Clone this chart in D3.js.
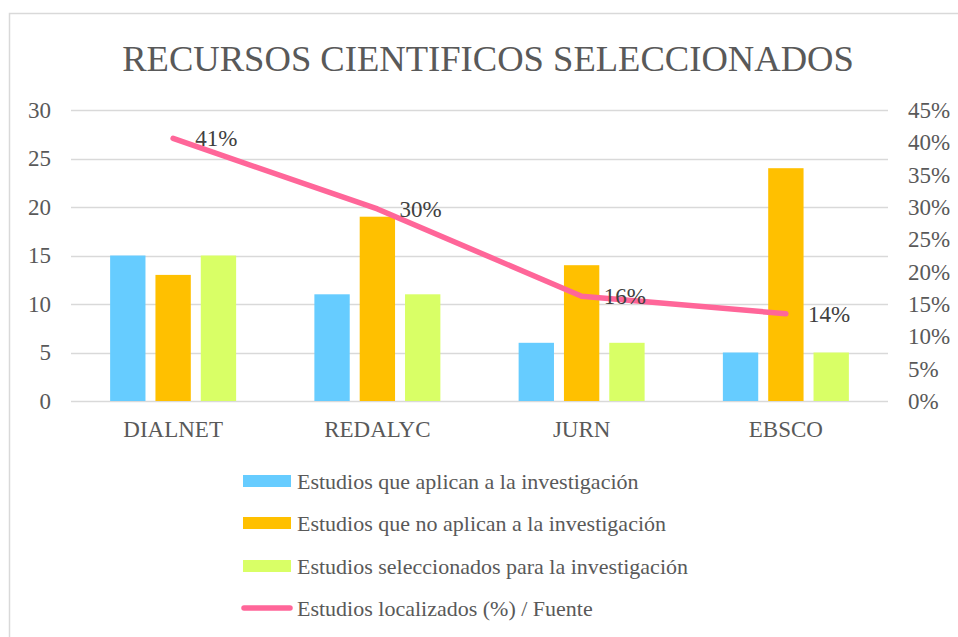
<!DOCTYPE html>
<html>
<head>
<meta charset="utf-8">
<script src="https://cdn.jsdelivr.net/npm/d3@7"></script>
<style>
  body { margin: 0; background: #fff; }
  svg text { font-family: 'Liberation Serif', 'Times New Roman', Times, 'DejaVu Serif', serif; }
</style>
</head>
<body>
<svg id="chart"></svg>
<script>
// datos del gráfico
const categories = ['DIALNET', 'REDALYC', 'JURN', 'EBSCO'];
const aplican = [15, 11, 6, 5];
const noAplican = [13, 19, 14, 24];
const seleccionados = [15, 11, 6, 5];
const localizados = [0.406, 0.297, 0.162, 0.135];
const localizadosLabels = ['41%', '30%', '16%', '14%'];
const leftTicks = [0, 5, 10, 15, 20, 25, 30];
const rightTicks = [0, 0.05, 0.10, 0.15, 0.20, 0.25, 0.30, 0.35, 0.40, 0.45];

const seriesNames = [
  'Estudios que aplican a la investigación',
  'Estudios que no aplican a la investigación',
  'Estudios seleccionados para la investigación',
  'Estudios localizados (%) / Fuente'
];
const colors = ['#66CCFF', '#FFC000', '#D9FF66', '#FF6699'];

const width = 958, height = 637;
const margin = { top: 110, right: 70, bottom: 236, left: 71 };
const serif = "'Liberation Serif', 'Times New Roman', Times, 'DejaVu Serif', serif";

const svg = d3.select('#chart')
  .attr('width', width)
  .attr('height', height);

// marco exterior
svg.append('rect')
  .attr('x', 9.5).attr('y', 13.5)
  .attr('width', 1000).attr('height', 700)
  .attr('fill', 'none')
  .attr('stroke', '#D9D9D9')
  .attr('stroke-width', 1.5);

// título
svg.append('text')
  .attr('x', 488).attr('y', 71)
  .attr('text-anchor', 'middle')
  .attr('fill', '#595959')
  .style('font-family', serif)
  .style('font-size', '36.6px')
  .text('RECURSOS CIENTIFICOS SELECCIONADOS');

const x0 = d3.scaleBand()
  .domain(categories)
  .range([margin.left, width - margin.right]);

const y = d3.scaleLinear()
  .domain([0, 30])
  .range([height - margin.bottom, margin.top]);

const yRight = d3.scaleLinear()
  .domain([0, 0.45])
  .range([height - margin.bottom, margin.top]);

// líneas de cuadrícula
svg.append('g')
  .selectAll('line')
  .data(leftTicks)
  .enter()
  .append('line')
  .attr('x1', margin.left)
  .attr('x2', width - margin.right)
  .attr('y1', d => Math.round(y(d)) + 0.5)
  .attr('y2', d => Math.round(y(d)) + 0.5)
  .attr('stroke', '#D9D9D9')
  .attr('stroke-width', 1.5);

// eje izquierdo
svg.append('g')
  .attr('transform', `translate(${margin.left - 20},0)`)
  .attr('font-family', serif)
  .call(d3.axisLeft(y).tickValues(leftTicks).tickSize(0).tickPadding(0))
  .call(g => g.select('.domain').remove())
  .call(g => g.attr('font-family', serif))
  .selectAll('text')
  .attr('fill', '#595959')
  .style('font-size', '23px')
  .style('font-family', serif);

// eje derecho
svg.append('g')
  .attr('transform', `translate(${width - margin.right + 20},0)`)
  .call(d3.axisRight(yRight).tickValues(rightTicks).tickSize(0).tickPadding(0)
    .tickFormat(d3.format('.0%')))
  .call(g => g.select('.domain').remove())
  .call(g => g.attr('font-family', serif))
  .selectAll('text')
  .attr('fill', '#595959')
  .style('font-size', '23px')
  .style('font-family', serif);

// eje de categorías
svg.append('g')
  .attr('transform', `translate(0,${height - margin.bottom})`)
  .call(d3.axisBottom(x0).tickSize(0).tickPadding(20))
  .call(g => g.select('.domain').remove())
  .call(g => g.attr('font-family', serif))
  .selectAll('text')
  .attr('fill', '#595959')
  .style('font-size', '23px')
  .style('font-family', serif);

// barras
const barSeries = [aplican, noAplican, seleccionados];
const x1 = d3.scaleBand()
  .domain([0, 1, 2])
  .range([0, 126])
  .paddingInner(0.22);

barSeries.forEach((values, s) => {
  svg.append('g')
    .selectAll('rect')
    .data(values)
    .enter()
    .append('rect')
    .attr('x', (d, i) => x0(categories[i]) + x0.bandwidth() / 2 - 63 + x1(s))
    .attr('y', d => y(d))
    .attr('width', x1.bandwidth())
    .attr('height', d => y(0) - y(d))
    .attr('fill', colors[s]);
});

// línea de porcentaje
const line = d3.line()
  .x((d, i) => x0(categories[i]) + x0.bandwidth() / 2)
  .y(d => yRight(d));

svg.append('path')
  .datum(localizados)
  .attr('d', line)
  .attr('fill', 'none')
  .attr('stroke', colors[3])
  .attr('stroke-width', 5.5)
  .attr('stroke-linecap', 'round')
  .attr('stroke-linejoin', 'round');

// etiquetas de datos
svg.append('g')
  .selectAll('text')
  .data(localizados)
  .enter()
  .append('text')
  .attr('x', (d, i) => x0(categories[i]) + x0.bandwidth() / 2 + 22)
  .attr('y', d => yRight(d) + 8)
  .attr('fill', '#404040')
  .style('font-family', serif)
  .style('font-size', '23px')
  .text((d, i) => localizadosLabels[i]);

// leyenda
const legend = svg.append('g');
const legendY = [481, 523, 566, 608];
seriesNames.forEach((name, i) => {
  if (i < 3) {
    legend.append('rect')
      .attr('x', 243).attr('y', legendY[i] - 6)
      .attr('width', 48).attr('height', 12)
      .attr('fill', colors[i]);
  } else {
    legend.append('line')
      .attr('x1', 244).attr('x2', 290)
      .attr('y1', legendY[i]).attr('y2', legendY[i])
      .attr('stroke', colors[i])
      .attr('stroke-width', 5.5)
      .attr('stroke-linecap', 'round');
  }
  legend.append('text')
    .attr('x', 297)
    .attr('y', legendY[i] + 8)
    .attr('fill', '#595959')
    .style('font-family', serif)
    .style('font-size', '22px')
    .text(name);
});
</script>
</body>
</html>
